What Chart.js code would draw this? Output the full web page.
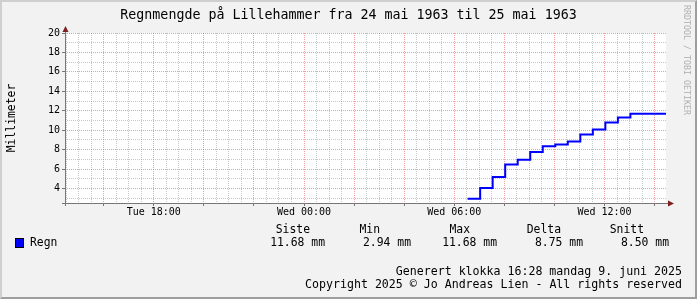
<!DOCTYPE html>
<html><head><meta charset="utf-8">
<script src="https://cdn.jsdelivr.net/npm/chart.js@4.4.1/dist/chart.umd.min.js"></script>
<style>
html,body{margin:0;padding:0;background:#f2f2f2;}
#wrap{position:relative;width:697px;height:299px;overflow:hidden;background:#f2f2f2;font-family:'DejaVu Sans Mono',monospace;color:#000;}
#c{position:absolute;left:0;top:0;}
.t{position:absolute;white-space:pre;line-height:14px;height:14px;}
#frame{position:absolute;left:0;top:0;width:697px;height:299px;box-sizing:border-box;border-top:2px solid #cfcfcf;border-left:2px solid #cfcfcf;border-right:2px solid #9e9e9e;border-bottom:2px solid #9e9e9e;pointer-events:none;}
</style></head>
<body><div id="wrap">
<canvas id="c" width="697" height="299"></canvas>
<div id="texts"></div>
<div id="frame"></div>
</div>
<script>
// ---- data ----
const chartTitle = 'Regnmengde på Lillehammer fra 24 mai 1963 til 25 mai 1963';
const yAxisTitle = 'Millimeter';
const seriesName = 'Regn';
const times = ['06:32','07:02','07:32','08:02','08:32','09:02','09:32','10:02','10:32','11:02','11:32','12:02','12:32','13:02','13:32','14:02']; // Wed
const regn  = [2.94, 4.04, 5.17, 6.47, 6.95, 7.75, 8.35, 8.53, 8.84, 9.56, 10.06, 10.78, 11.30, 11.68, 11.68, 11.68];
const stepMinutes = 30;
const xTickHours  = [-6, 0, 6, 12];
const xTickLabels = ['Tue 18:00', 'Wed 00:00', 'Wed 06:00', 'Wed 12:00'];
const yTickValues = [4, 6, 8, 10, 12, 14, 16, 18, 20];
const statNames  = ['Siste', 'Min', 'Max', 'Delta', 'Snitt'];
const statValues = [11.68, 2.94, 11.68, 8.75, 8.50];
const statUnit = 'mm';
const footer1 = 'Generert klokka 16:28 mandag 9. juni 2025';
const footer2 = 'Copyright 2025 © Jo Andreas Lien - All rights reserved';
const watermark = 'RRDTOOL / TOBI OETIKER';

// ---- layout ----
const FONT = "'DejaVu Sans Mono', monospace";
const headerRight = [310, 380, 470, 561, 644];
const valueRight  = [325, 411, 497, 583, 669];

const texts = document.getElementById('texts');
function addText(str, style) {
  const d = document.createElement('div');
  d.className = 't';
  d.textContent = str;
  Object.assign(d.style, style);
  texts.appendChild(d);
  return d;
}
addText(chartTitle, {left:'0px', width:'697px', top:'8px', textAlign:'center', fontSize:'13.3px'});
addText(yAxisTitle, {left:'-39px', width:'100px', top:'111px', textAlign:'center', fontSize:'11.4px', transform:'rotate(-90deg)'});
addText(watermark, {left:'627px', width:'120px', top:'55px', textAlign:'center', fontSize:'8.3px', lineHeight:'10px', height:'10px', color:'#b0b0b0', transform:'rotate(90deg)'});
statNames.forEach((n, i) => addText(n, {right:(697 - headerRight[i]) + 'px', top:'222px', textAlign:'right', fontSize:'11.4px'}));
statValues.forEach((v, i) => addText(v.toFixed(2) + ' ' + statUnit, {right:(697 - valueRight[i]) + 'px', top:'235px', textAlign:'right', fontSize:'11.4px'}));
addText(seriesName, {left:'30px', top:'235px', fontSize:'11.4px'});
const sw = document.createElement('div');
Object.assign(sw.style, {position:'absolute', left:'15px', top:'238px', width:'7px', height:'8px', background:'#0000ff', border:'1px solid #000'});
texts.appendChild(sw);
addText(footer1, {right:'15px', top:'264px', textAlign:'right', fontSize:'11.6px'});
addText(footer2, {right:'15px', top:'277px', textAlign:'right', fontSize:'11.6px'});

// ---- chart ----
function toH(t) { const [h, m] = t.split(':').map(Number); return h + m / 60; }
const pts = times.map((t, i) => ({x: toH(t), y: regn[i]}));
pts.push({x: toH(times[times.length - 1]) + stepMinutes / 60, y: regn[regn.length - 1]});

const MAJOR = 'rgba(222,79,79,0.55)';
const MINOR = 'rgba(143,143,143,0.5)';

const decor = {
  id: 'decor',
  beforeDraw(chart) {
    const {ctx, chartArea: a} = chart;
    ctx.save();
    ctx.fillStyle = '#ffffff';
    ctx.fillRect(a.left, a.top, a.right - a.left, a.bottom - a.top);
    ctx.restore();
  },
  afterDraw(chart) {
    const {ctx, chartArea: a} = chart;
    const x0 = Math.round(a.left) + 0.5, y0 = Math.round(a.bottom) + 0.5;
    ctx.save();
    ctx.strokeStyle = '#777777';
    ctx.lineWidth = 1;
    ctx.beginPath();
    ctx.moveTo(a.left - 3, y0); ctx.lineTo(a.right + 4, y0);
    ctx.moveTo(x0, a.bottom + 3); ctx.lineTo(x0, a.top - 4);
    ctx.stroke();
    ctx.fillStyle = '#801f1f';
    ctx.beginPath();
    ctx.moveTo(a.right + 2, y0 - 3); ctx.lineTo(a.right + 8, y0); ctx.lineTo(a.right + 2, y0 + 3); ctx.closePath();
    ctx.fill();
    ctx.beginPath();
    ctx.moveTo(x0 - 3, a.top - 1); ctx.lineTo(x0, a.top - 7); ctx.lineTo(x0 + 3, a.top - 1); ctx.closePath();
    ctx.fill();
    ctx.restore();
  }
};

new Chart(document.getElementById('c'), {
  type: 'line',
  data: {datasets: [{
    label: seriesName, data: pts, stepped: true,
    borderColor: '#0000ff', borderWidth: 2, pointRadius: 0, fill: false
  }]},
  options: {
    responsive: false, animation: false, devicePixelRatio: 1,
    layout: {padding: {top: 33, right: 31, left: 0, bottom: 0}},
    plugins: {legend: {display: false}, tooltip: {enabled: false}, title: {display: false}},
    scales: {
      x: {
        type: 'linear', min: -9.545, max: 14.455,
        afterFit(s) { s.height = 96; },
        afterBuildTicks(s) {
          const t = [];
          for (let v = Math.ceil(s.min * 2) / 2; v <= s.max; v += 0.5) t.push({value: v});
          s.ticks = t;
        },
        ticks: {
          autoSkip: false, maxRotation: 0, minRotation: 0, padding: 0, color: '#000',
          font: {family: FONT, size: 10},
          callback(v) { const i = xTickHours.indexOf(v); return i >= 0 ? xTickLabels[i] : ''; }
        },
        grid: {
          color: c => (c.tick && c.tick.value % 2 === 0) ? MAJOR : MINOR,
          tickColor: c => (c.tick && c.tick.value % 2 === 0) ? '#777777' : 'rgba(0,0,0,0)',
          tickLength: 3, lineWidth: 1
        },
        border: {display: false, dash: [1, 1]}
      },
      y: {
        type: 'linear', min: 2.5, max: 20,
        afterFit(s) { s.width = 65; },
        afterBuildTicks(s) {
          const t = [];
          for (let v = Math.ceil(s.min); v <= s.max; v += 1) t.push({value: v});
          s.ticks = t;
        },
        ticks: {
          autoSkip: false, padding: 2, color: '#000',
          font: {family: FONT, size: 10},
          callback(v) { return yTickValues.includes(v) ? String(v) : ''; }
        },
        grid: {
          color: c => (c.tick && c.tick.value % 2 === 0) ? MAJOR : MINOR,
          tickColor: c => (c.tick && c.tick.value % 2 === 0) ? '#777777' : 'rgba(0,0,0,0)',
          tickLength: 3, lineWidth: 1
        },
        border: {display: false, dash: [1, 1]}
      }
    }
  },
  plugins: [decor]
});
</script>
</body></html>
